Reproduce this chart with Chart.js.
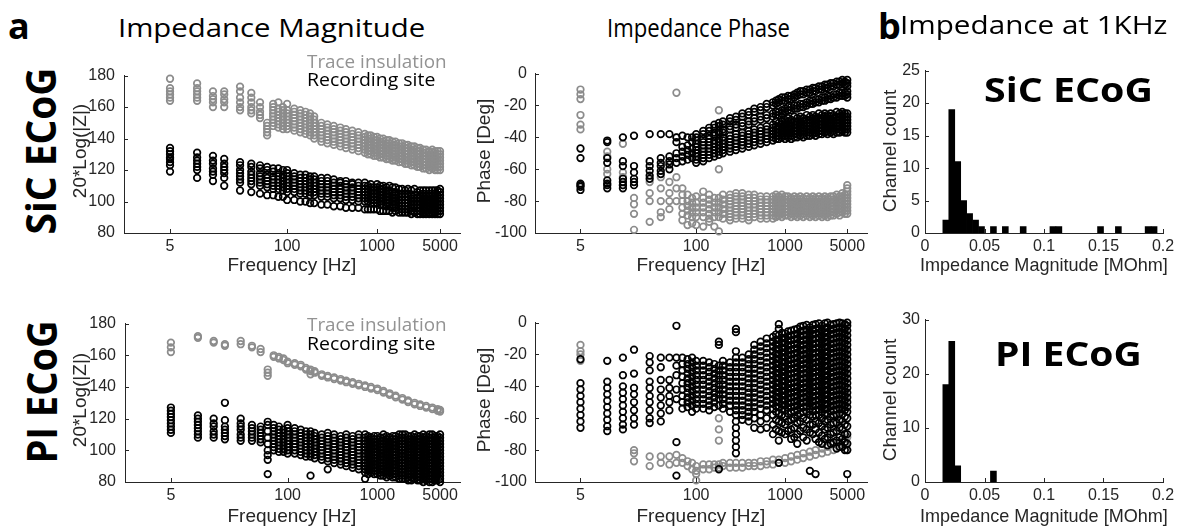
<!DOCTYPE html>
<html>
<head>
<meta charset="utf-8">
<title>Impedance</title>
<script src="https://cdn.jsdelivr.net/npm/chart.js@4.4.1/dist/chart.umd.min.js"></script>
<style>
  html, body { margin: 0; padding: 0; background: #fff; }
  body { position: relative; width: 1177px; height: 527px; overflow: hidden; }
  .panel { position: absolute; }
  .lbl { position: absolute; white-space: nowrap; line-height: 1; }
</style>
</head>
<body>
<script>
// frequency sweep shared by all four scatter panels (one column of values per frequency)
var FREQ = [5, 10, 15, 20, 30, 40, 50, 60, 70, 80, 90, 100, 120, 140, 160, 180, 200, 240, 280, 330,
  390, 450, 530, 620, 730, 850, 1000, 1170, 1370, 1600, 1900, 2200, 2600, 3000, 3500, 4100, 4700, 5000];
// extra points of the sweep in the crowded high-frequency end
var FREQ_HI = [790, 920, 1080, 1270, 1480, 1750, 2050, 2400, 2800, 3250, 3800, 4400];

var FREQ_TICKS = [5, 100, 1000, 5000];
var MAG_TICKS = [80, 100, 120, 140, 160, 180];
var PHASE_TICKS = [-100, -80, -60, -40, -20, 0];
var SIC_COUNT_TICKS = [0, 5, 10, 15, 20, 25];
var PI_COUNT_TICKS = [0, 10, 20, 30];
var MOHM_TICKS = [0, 0.05, 0.1, 0.15, 0.2];

// SiC ECoG, 20*log|Z|
var SIC_MAG_TRACE = [
  [164, 166, 168, 170, 172, 178], [164, 166, 168, 170, 172, 175], [160, 163, 165, 167, 170],
  [160, 163, 165, 168, 170], [158, 160, 163, 166, 170, 173], [156, 158, 160, 163, 166, 169],
  [153, 155, 157, 160, 163], [142, 144, 146, 148, 150],
  [148, 150, 152, 154, 156, 158, 160, 162], [147, 149, 151, 153, 155, 157, 159, 163],
  [146, 148, 150, 152, 154, 156, 158, 160], [146, 148, 150, 152, 154, 156, 158, 162],
  [145, 147, 149, 151, 153, 155, 157, 159], [144, 146, 148, 150, 152, 154, 156, 158],
  [143, 145, 147, 149, 151, 153, 155, 157], [142, 144, 146, 148, 150, 152, 154, 156],
  [140, 142, 144, 146, 148, 150, 152, 154], [138, 140, 142, 144, 146, 148, 150],
  [137, 139, 141, 143, 145, 147, 149], [136, 138, 140, 142, 144, 146, 148],
  [135, 137, 139, 141, 143, 145, 147], [134, 136, 138, 140, 142, 144, 146],
  [133, 135, 137, 139, 141, 143, 145], [132, 134, 136, 138, 140, 142, 144],
  [131, 133, 135, 137, 139, 141, 143], [130, 132, 134, 136, 138, 140, 142],
  [129, 131, 133, 135, 137, 139, 141], [128, 130, 132, 134, 136, 138, 140],
  [127, 129, 131, 133, 135, 137, 139], [126, 128, 130, 132, 134, 136, 138],
  [125, 127, 129, 131, 133, 135, 137], [124, 126, 128, 130, 132, 134, 136],
  [123, 125, 127, 129, 131, 133, 135], [122, 124, 126, 128, 130, 132, 134],
  [121, 123, 125, 127, 129, 131, 133], [121, 123, 125, 127, 129, 131, 133],
  [120, 122, 124, 126, 128, 130, 132], [120, 122, 124, 126, 128, 130, 132]
];
var SIC_MAG_TRACE_HI = [
  [130, 132, 134, 136, 138, 140, 142], [129, 131, 133, 135, 137, 139, 141], [128, 130, 132, 134, 136, 138, 140],
  [127, 129, 131, 133, 135, 137, 139], [126, 128, 130, 132, 134, 136, 138], [125, 127, 129, 131, 133, 135, 137],
  [124, 126, 128, 130, 132, 134, 136], [123, 125, 127, 129, 131, 133, 135], [122, 124, 126, 128, 130, 132, 134],
  [121, 123, 125, 127, 129, 131, 133], [120, 122, 124, 126, 128, 130, 132], [120, 122, 124, 126, 128, 130, 132]
];
var SIC_MAG_SITE = [
  [119, 123, 125, 127, 128, 130, 132, 134], [115, 120, 122, 124, 126, 128, 131],
  [113, 117, 119, 121, 124, 126, 129], [110, 115, 118, 120, 122, 124, 127],
  [107, 112, 114, 116, 118, 120, 123, 125], [106, 111, 113, 115, 117, 119, 122, 124],
  [105, 110, 112, 114, 116, 118, 121, 123], [104, 109, 111, 113, 115, 117, 120, 122],
  [104, 108, 110, 112, 114, 116, 119, 121], [103, 108, 110, 112, 114, 116, 118, 121],
  [103, 107, 109, 111, 113, 115, 117, 120], [101, 106, 108, 110, 112, 114, 116, 118, 120],
  [101, 106, 108, 110, 112, 114, 116, 118], [100, 105, 107, 109, 111, 113, 115, 117],
  [100, 105, 107, 109, 111, 113, 115, 117], [99, 104, 106, 108, 110, 112, 114, 116],
  [99, 104, 106, 108, 110, 112, 114, 116], [98, 103, 105, 107, 109, 111, 113, 115],
  [98, 103, 105, 107, 109, 111, 113, 115], [97, 102, 104, 106, 108, 110, 112, 114],
  [97, 102, 104, 106, 108, 110, 112, 113], [96, 101, 103, 105, 107, 109, 111, 113],
  [96, 101, 103, 105, 107, 109, 111, 112], [96, 100, 102, 104, 106, 108, 110, 112],
  [95, 100, 102, 104, 106, 108, 110, 112], [95, 99, 101, 103, 105, 107, 109, 111],
  [95, 99, 101, 103, 105, 107, 109, 111], [94, 98, 100, 102, 104, 106, 108, 110],
  [94, 97, 99, 101, 103, 105, 107, 110], [94, 96, 98, 100, 102, 104, 106, 109],
  [93, 95, 97, 99, 101, 103, 105, 108], [93, 95, 97, 99, 101, 103, 105, 108],
  [93, 94, 96, 98, 100, 102, 104, 108], [92, 94, 96, 98, 100, 102, 104, 107],
  [92, 94, 96, 98, 100, 102, 104, 107], [92, 94, 96, 98, 100, 102, 104, 107],
  [92, 94, 96, 98, 100, 102, 104, 107], [92, 94, 96, 98, 100, 102, 104, 106, 108]
];
var SIC_MAG_SITE_HI = [
  [95, 100, 102, 104, 106, 108, 110], [95, 99, 101, 103, 105, 107, 109], [94, 98, 100, 102, 104, 106, 108, 110],
  [94, 97, 99, 101, 103, 105, 107, 109], [93, 96, 98, 100, 102, 104, 106, 109], [93, 95, 97, 99, 101, 103, 105, 108],
  [93, 95, 97, 99, 101, 103, 105, 107], [92, 94, 96, 98, 100, 102, 104, 107], [92, 94, 96, 98, 100, 102, 104, 106],
  [92, 93, 95, 97, 99, 101, 103, 105, 107], [92, 93, 95, 97, 99, 101, 103, 105, 107],
  [92, 93, 95, 97, 99, 101, 103, 105, 107]
];

// SiC ECoG, phase in degrees
var SIC_PH_TRACE = [
  [-10, -13, -16, -26, -32, -35], [-49, -52, -60, -63], [-44, -62, -65, -70], [-78, -82, -88, -98],
  [-68, -75, -80, -93], [-65, -72, -80, -87, -90], [-68, -75, -80, -85], [-12, -40, -65, -72, -80],
  [-72, -76, -80, -84, -88, -92], [-76, -80, -83, -86, -89, -95], [-78, -81, -84, -87, -90, -94],
  [-77, -81, -84, -87, -90, -95], [-74, -78, -81, -84, -87, -90, -96], [-76, -79, -82, -85, -88, -91, -93],
  [-78, -81, -84, -87, -90, -96], [-23, -60, -78, -81, -84, -87, -90, -99], [-76, -79, -82, -85, -88, -91],
  [-76, -78, -80, -82, -84, -86, -88, -90, -92], [-75, -77, -79, -81, -83, -85, -87, -89, -91],
  [-75, -77, -79, -81, -83, -85, -87, -89, -91], [-76, -78, -80, -82, -84, -86, -88, -90, -92],
  [-76, -78, -80, -82, -84, -86, -88, -90], [-77, -79, -81, -83, -85, -87, -89, -91],
  [-77, -79, -81, -83, -85, -87, -89, -91], [-77, -79, -81, -83, -85, -87, -89, -91],
  [-77, -79, -81, -83, -85, -87, -89], [-77, -79, -81, -83, -85, -87, -89],
  [-78, -80, -82, -84, -86, -88, -90], [-78, -80, -82, -84, -86, -88, -90],
  [-78, -80, -82, -84, -86, -88, -90], [-78, -80, -82, -84, -86, -88, -90],
  [-78, -80, -82, -84, -86, -88, -90], [-78, -80, -82, -84, -86, -88, -90],
  [-78, -80, -82, -84, -86, -88, -90], [-77, -79, -81, -83, -85, -87, -89],
  [-77, -79, -81, -83, -85, -87, -89], [-76, -78, -80, -82, -84, -86, -88],
  [-70, -72, -74, -76, -78, -80, -82, -84, -86, -88]
];
var SIC_PH_TRACE_HI = [
  [-76, -78, -80, -82, -84, -86, -88, -90], [-76, -78, -80, -82, -84, -86, -88, -90],
  [-77, -79, -81, -83, -85, -87, -89], [-77, -79, -81, -83, -85, -87, -89], [-77, -79, -81, -83, -85, -87, -89],
  [-77, -79, -81, -83, -85, -87, -89], [-77, -79, -81, -83, -85, -87, -89], [-77, -79, -81, -83, -85, -87, -89],
  [-77, -79, -81, -83, -85, -87, -89], [-77, -79, -81, -83, -85, -87, -89], [-76, -78, -80, -82, -84, -86, -88],
  [-75, -77, -79, -81, -83, -85, -87]
];
var SIC_PH_SITE = [
  [-47, -53, -69, -70, -71, -73], [-42, -43, -53, -56, -67, -69, -70, -72], [-40, -55, -58, -66, -68, -70, -72],
  [-39, -58, -62, -66, -68, -70], [-38, -55, -58, -61, -64, -66], [-38, -53, -56, -58, -61, -63],
  [-38, -52, -55, -57, -60], [-40, -43, -50, -53, -56], [-39, -46, -49, -52, -55], [-40, -45, -48, -51, -54],
  [-40, -43, -47, -50, -53],
  [-38, -40, -42, -44, -46, -48, -50, -52, -54, -56], [-36, -38, -41, -43, -45, -47, -49, -51, -53, -55],
  [-34, -36, -39, -41, -43, -45, -47, -49, -51, -53], [-32, -34, -37, -39, -42, -44, -46, -48, -50, -52],
  [-31, -33, -36, -38, -41, -43, -45, -47, -49, -51], [-30, -32, -35, -37, -40, -42, -44, -46, -48, -50],
  [-28, -30, -33, -35, -39, -41, -43, -45, -47, -49], [-27, -29, -32, -34, -38, -40, -42, -44, -46, -48],
  [-25, -27, -31, -33, -37, -39, -41, -43, -45, -47], [-24, -26, -30, -32, -36, -38, -40, -42, -44, -46],
  [-22, -24, -28, -30, -35, -37, -39, -41, -43, -45], [-21, -23, -27, -29, -34, -36, -38, -40, -42, -44],
  [-19, -21, -26, -28, -33, -35, -37, -39, -41, -43], [-18, -20, -25, -27, -32, -34, -36, -38, -40, -42],
  [-16, -18, -24, -26, -31, -33, -35, -37, -39, -41], [-15, -17, -22, -24, -29, -31, -33, -35, -37, -39, -41],
  [-14, -16, -21, -23, -29, -31, -33, -35, -37, -39, -41], [-12, -14, -20, -22, -28, -30, -32, -34, -36, -38, -40],
  [-11, -13, -19, -21, -28, -30, -32, -34, -36, -38, -40], [-10, -12, -17, -19, -27, -29, -31, -33, -35, -37, -39],
  [-9, -11, -16, -18, -27, -29, -31, -33, -35, -37, -39], [-8, -10, -15, -17, -26, -28, -30, -32, -34, -36, -38],
  [-7, -9, -14, -16, -26, -28, -30, -32, -34, -36, -38], [-6, -8, -13, -15, -26, -28, -30, -32, -34, -36, -38],
  [-5, -7, -12, -14, -25, -27, -29, -31, -33, -35, -37], [-5, -7, -12, -14, -25, -27, -29, -31, -33, -35, -37],
  [-4, -6, -8, -11, -13, -15, -25, -27, -29, -31, -33, -35, -37]
];
var SIC_PH_SITE_HI = [
  [-17, -19, -24, -26, -30, -33, -35, -37, -39, -41], [-15, -17, -23, -25, -30, -32, -34, -36, -38, -40],
  [-14, -16, -21, -23, -28, -30, -32, -34, -36, -38, -40], [-13, -15, -20, -22, -27, -30, -32, -34, -36, -38, -40],
  [-11, -13, -19, -21, -27, -29, -31, -33, -35, -37, -39], [-10, -12, -18, -20, -26, -29, -31, -33, -35, -37, -39],
  [-9, -11, -17, -19, -26, -28, -30, -32, -34, -36, -38], [-8, -10, -16, -18, -25, -28, -30, -32, -34, -36, -38],
  [-7, -9, -15, -17, -25, -27, -29, -31, -33, -35, -37], [-6, -8, -14, -16, -25, -27, -29, -31, -33, -35, -37],
  [-5, -7, -13, -15, -24, -27, -29, -31, -33, -35, -37], [-4, -6, -12, -14, -24, -26, -28, -30, -32, -34, -36]
];

// PI ECoG, 20*log|Z|
var PI_MAG_TRACE = [
  [162, 165, 168], [171, 172], [168, 169], [166, 167], [167, 169], [165, 166], [162, 164], [147, 149, 151],
  [159, 160], [158, 159], [157, 158], [155, 156], [154, 155], [153, 154], [151, 152], [148, 150, 151],
  [149, 150], [147, 148], [146, 147], [145, 146], [144, 145], [143, 144], [142, 143], [141, 142],
  [140, 141], [139, 140], [138, 139], [136.5, 137.5], [135, 136], [133.5, 134.5], [132, 133],
  [130.5, 131.5], [129, 130], [128, 129], [127, 128], [126, 127], [125, 126], [124.5, 125.5]
];
var PI_MAG_SITE = [
  [111, 113, 115, 117, 119, 121, 123, 125, 127], [108, 110, 112, 114, 116, 118, 120, 122],
  [108, 110, 112, 115, 117, 120], [107, 109, 111, 113, 115, 119, 130], [106, 108, 110, 113, 115, 117, 120],
  [106, 108, 110, 112, 114, 116], [105, 107, 109, 111, 113, 115], [85, 94, 97, 100, 104, 108, 112, 116, 118],
  [100, 102, 104, 106, 108, 110, 112, 114, 116], [99, 101, 103, 105, 107, 109, 111, 113, 115],
  [99, 101, 103, 105, 107, 109, 111, 113], [98, 100, 102, 104, 106, 108, 110, 112, 114, 116],
  [98, 100, 102, 104, 106, 108, 110, 112, 114], [97, 99, 101, 103, 105, 107, 109, 111, 113],
  [96, 98, 100, 102, 104, 106, 108, 110, 112], [84, 96, 98, 100, 102, 104, 106, 108, 110, 112],
  [95, 97, 99, 101, 103, 105, 107, 109, 111], [94, 96, 98, 100, 102, 104, 106, 108, 110],
  [88, 93, 95, 97, 99, 101, 103, 105, 107, 109, 111], [92, 94, 96, 98, 100, 102, 104, 106, 108, 110],
  [91, 93, 95, 97, 99, 101, 103, 105, 107, 109], [90, 92, 94, 96, 98, 100, 102, 104, 106, 108, 110],
  [89, 91, 93, 95, 97, 99, 101, 103, 105, 107, 109], [88, 90, 92, 94, 96, 98, 100, 102, 104, 106, 108, 110],
  [82, 86, 88, 90, 92, 94, 96, 98, 100, 102, 104, 106, 108, 110],
  [86, 88, 90, 92, 94, 96, 98, 100, 102, 104, 106, 108],
  [85, 87, 89, 91, 93, 95, 97, 99, 101, 103, 105, 107, 109],
  [84, 86, 88, 90, 92, 94, 96, 98, 100, 102, 104, 106, 108, 110],
  [84, 86, 88, 90, 92, 94, 96, 98, 100, 102, 104, 106, 108],
  [83, 85, 87, 89, 91, 93, 95, 97, 99, 101, 103, 105, 107, 109],
  [82, 84, 86, 88, 90, 92, 94, 96, 98, 100, 102, 104, 106, 108, 110],
  [81, 83, 85, 87, 89, 91, 93, 95, 97, 99, 101, 103, 105, 107, 109],
  [82, 84, 86, 88, 90, 92, 94, 96, 98, 100, 102, 104, 106, 108, 110],
  [81, 83, 85, 87, 89, 91, 93, 95, 97, 99, 101, 103, 105, 107, 109],
  [81, 83, 85, 87, 89, 91, 93, 95, 97, 99, 101, 103, 105, 107, 109],
  [80, 82, 84, 86, 88, 90, 92, 94, 96, 98, 100, 102, 104, 106, 108, 110],
  [81, 83, 85, 87, 89, 91, 93, 95, 97, 99, 101, 103, 105, 107, 109],
  [80, 82, 84, 86, 88, 90, 92, 94, 96, 98, 100, 102, 104, 106, 108, 110]
];
var PI_MAG_SITE_HI = [
  [85, 87, 89, 91, 93, 95, 97, 99, 101, 103, 105, 107, 109],
  [85, 87, 89, 91, 93, 95, 97, 99, 101, 103, 105, 107, 109],
  [84, 86, 88, 90, 92, 94, 96, 98, 100, 102, 104, 106, 108],
  [83, 85, 87, 89, 91, 93, 95, 97, 99, 101, 103, 105, 107, 109],
  [83, 85, 87, 89, 91, 93, 95, 97, 99, 101, 103, 105, 107, 109],
  [82, 84, 86, 88, 90, 92, 94, 96, 98, 100, 102, 104, 106, 108, 110],
  [82, 84, 86, 88, 90, 92, 94, 96, 98, 100, 102, 104, 106, 108, 110],
  [81, 83, 85, 87, 89, 91, 93, 95, 97, 99, 101, 103, 105, 107, 109],
  [81, 83, 85, 87, 89, 91, 93, 95, 97, 99, 101, 103, 105, 107, 109],
  [80, 82, 84, 86, 88, 90, 92, 94, 96, 98, 100, 102, 104, 106, 108, 110],
  [80, 82, 84, 86, 88, 90, 92, 94, 96, 98, 100, 102, 104, 106, 108, 110],
  [81, 83, 85, 87, 89, 91, 93, 95, 97, 99, 101, 103, 105, 107, 109]
];

// PI ECoG, phase in degrees
var PI_PH_TRACE = [
  [-14, -18, -20, -24], [], [], [-80, -82, -87], [-84, -90], [-84, -88], [-84, -89], [-83, -88],
  [-85, -88], [-87, -90], [-88, -92], [-90, -93, -95, -99], [-89, -92], [-89, -92], [-89, -91],
  [-60, -67, -74, -89, -91], [-88, -90], [-88, -91], [-88, -91], [-88, -91], [-88, -90], [-88, -90],
  [-87, -90], [-87, -89], [-86, -89], [-86, -88], [-85, -88], [-84, -87], [-83, -86], [-82, -85],
  [-81, -84], [-80, -83], [-79, -82], [-78, -81], [-76, -80], [-75, -78], [-73, -77], [-72, -76, -80]
];
var PI_PH_SITE = [
  [-23, -38, -42, -46, -50, -54, -58, -62, -66], [-24, -37, -41, -45, -49, -53, -57, -61, -65, -68],
  [-22, -33, -40, -44, -48, -52, -56, -60, -64, -67], [-17, -32, -41, -45, -50, -55, -60, -64],
  [-21, -25, -30, -37, -41, -46, -50, -55, -60, -63], [-22, -28, -36, -42, -47, -52, -57, -62],
  [-22, -36, -41, -46, -50, -55], [-2, -22, -27, -33, -42, -48, -75, -96],
  [-22, -26, -30, -34, -38, -42, -46, -50, -54], [-23, -26, -29, -32, -35, -38, -41, -44, -47, -50, -53],
  [-22, -25, -28, -31, -34, -37, -40, -43, -46, -49, -52, -56], [-24, -27, -30, -33, -36, -39, -42, -45, -48, -51, -54],
  [-24, -27, -30, -33, -36, -39, -42, -45, -48, -51, -54], [-25, -28, -31, -34, -37, -40, -43, -46, -49, -52, -55],
  [-26, -29, -32, -35, -38, -41, -44, -47, -50, -53], [-12, -14, -27, -30, -33, -36, -39, -42, -45, -48, -52, -92],
  [-24, -27, -30, -33, -36, -39, -42, -45, -48, -51, -54], [-25, -28, -31, -34, -37, -40, -43, -46, -49, -52, -56],
  [-4, -6, -18, -22, -25, -28, -31, -34, -37, -40, -43, -46, -49, -52, -55, -58, -62, -66, -70, -74, -78, -82],
  [-22, -25, -28, -31, -34, -37, -40, -43, -46, -49, -52, -55, -58, -61],
  [-20, -23, -26, -29, -32, -35, -38, -41, -44, -47, -50, -53, -56, -59, -62],
  [-14, -17, -20, -23, -26, -29, -32, -35, -38, -41, -44, -47, -50, -53, -56, -60, -66],
  [-12, -15, -18, -21, -24, -27, -30, -33, -36, -39, -42, -45, -48, -51, -54, -58, -62, -67],
  [-10, -13, -16, -19, -22, -25, -28, -31, -34, -37, -40, -43, -46, -49, -52, -55, -60, -66],
  [-9, -12, -15, -18, -21, -24, -27, -30, -33, -36, -39, -42, -45, -48, -51, -54, -58, -64, -70],
  [-1, -4, -8, -11, -14, -17, -20, -23, -26, -29, -32, -35, -38, -41, -44, -47, -50, -53, -57, -62, -68, -74, -88],
  [-7, -10, -13, -16, -19, -22, -25, -28, -31, -34, -37, -40, -43, -46, -49, -52, -55, -59, -64, -70],
  [-5, -8, -11, -14, -17, -20, -23, -26, -29, -32, -35, -38, -41, -44, -47, -50, -53, -56, -61, -67, -73],
  [-4, -7, -10, -13, -16, -19, -22, -25, -28, -31, -34, -37, -40, -43, -46, -49, -52, -55, -58, -63, -70, -76],
  [-2, -5, -8, -11, -14, -17, -20, -23, -26, -29, -32, -35, -38, -41, -44, -47, -50, -53, -56, -60, -66, -72],
  [-3, -6, -9, -12, -15, -18, -21, -24, -27, -30, -33, -36, -39, -42, -45, -48, -51, -54, -58, -64, -69, -93],
  [-1, -4, -7, -10, -13, -16, -19, -22, -25, -28, -31, -34, -37, -40, -43, -46, -49, -52, -55, -58, -62, -67, -73, -95],
  [-2, -5, -8, -11, -14, -17, -20, -23, -26, -29, -32, -35, -38, -41, -44, -47, -50, -53, -56, -60, -65, -71, -76],
  [0, -3, -6, -9, -12, -15, -18, -21, -24, -27, -30, -33, -36, -39, -42, -45, -48, -51, -54, -57, -61, -66, -72, -77],
  [-1, -4, -7, -10, -13, -16, -19, -22, -25, -28, -31, -34, -37, -40, -43, -46, -49, -52, -55, -58, -63, -69, -75],
  [0, -3, -6, -9, -12, -15, -18, -21, -24, -27, -30, -33, -36, -39, -42, -45, -48, -51, -54, -57, -61, -66, -72, -78],
  [-1, -4, -7, -10, -13, -16, -19, -22, -25, -28, -31, -34, -37, -40, -43, -46, -49, -52, -55, -59, -64, -70, -75, -80],
  [0, -2, -5, -8, -11, -14, -17, -20, -23, -26, -29, -32, -35, -38, -41, -44, -47, -50, -53, -56, -60, -65, -70, -76, -80, -95]
];
var PI_PH_SITE_HI = [
  [-7.5, -10.5, -13.5, -16.5, -19.5, -22.5, -25.5, -28.5, -31.5, -34.5, -37.5, -40.5, -43.5, -46.5, -49.5, -52.5, -56, -61, -67],
  [-6.5, -9.5, -12.5, -15.5, -18.5, -21.5, -24.5, -27.5, -30.5, -33.5, -36.5, -39.5, -42.5, -45.5, -48.5, -51.5, -54.5, -58, -63, -69],
  [-5.5, -8.5, -11.5, -14.5, -17.5, -20.5, -23.5, -26.5, -29.5, -32.5, -35.5, -38.5, -41.5, -44.5, -47.5, -50.5, -53.5, -57, -62, -68],
  [-4.5, -7.5, -10.5, -13.5, -16.5, -19.5, -22.5, -25.5, -28.5, -31.5, -34.5, -37.5, -40.5, -43.5, -46.5, -49.5, -52.5, -55.5, -60, -66, -72],
  [-2.5, -5.5, -8.5, -11.5, -14.5, -17.5, -20.5, -23.5, -26.5, -29.5, -32.5, -35.5, -38.5, -41.5, -44.5, -47.5, -50.5, -53.5, -57, -62, -68],
  [-1.5, -4.5, -7.5, -10.5, -13.5, -16.5, -19.5, -22.5, -25.5, -28.5, -31.5, -34.5, -37.5, -40.5, -43.5, -46.5, -49.5, -52.5, -56, -61, -67, -74],
  [-1.5, -4.5, -7.5, -10.5, -13.5, -16.5, -19.5, -22.5, -25.5, -28.5, -31.5, -34.5, -37.5, -40.5, -43.5, -46.5, -49.5, -52.5, -55.5, -59, -64, -70],
  [-0.5, -3.5, -6.5, -9.5, -12.5, -15.5, -18.5, -21.5, -24.5, -27.5, -30.5, -33.5, -36.5, -39.5, -42.5, -45.5, -48.5, -51.5, -54.5, -58, -63, -69, -75],
  [-0.5, -3.5, -6.5, -9.5, -12.5, -15.5, -18.5, -21.5, -24.5, -27.5, -30.5, -33.5, -36.5, -39.5, -42.5, -45.5, -48.5, -51.5, -54.5, -57.5, -62, -67, -73],
  [-1.5, -4.5, -7.5, -10.5, -13.5, -16.5, -19.5, -22.5, -25.5, -28.5, -31.5, -34.5, -37.5, -40.5, -43.5, -46.5, -49.5, -52.5, -55.5, -59, -64, -70, -76],
  [-0.5, -3.5, -6.5, -9.5, -12.5, -15.5, -18.5, -21.5, -24.5, -27.5, -30.5, -33.5, -36.5, -39.5, -42.5, -45.5, -48.5, -51.5, -54.5, -58, -63, -68, -74, -79],
  [-0.5, -3.5, -6.5, -9.5, -12.5, -15.5, -18.5, -21.5, -24.5, -27.5, -30.5, -33.5, -36.5, -39.5, -42.5, -45.5, -48.5, -51.5, -54.5, -57.5, -62, -67, -73, -78]
];

// impedance at 1 kHz, histogram bin centres (MOhm) and channel counts
var SIC_BINS = [0.0175, 0.0225, 0.0275, 0.0325, 0.0375, 0.0425, 0.0475, 0.0575, 0.0675, 0.0825,
  0.1075, 0.1125, 0.1475, 0.1625, 0.1875, 0.1925];
var SIC_COUNTS = [2, 19, 11, 5, 3, 2, 1, 1, 1, 1, 1, 1, 1, 1, 1, 1];
var PI_BINS = [0.0175, 0.0225, 0.0275, 0.0575];
var PI_COUNTS = [18, 26, 3, 2];

(function() {
  'use strict';

  var AXIS = '#262626';
  var GRAY = '#8c8c8c';
  var HELV = '"Liberation Sans", Arial, sans-serif';
  var OPEN = '"Open Sans", "Noto Sans", sans-serif';
  var Y_W = 50, PAD_T = 12, PAD_R = 20, X_H = 30;

  Chart.defaults.font.family = HELV;
  Chart.defaults.font.size = 16;
  Chart.defaults.color = AXIS;

  function points(freqs, cols) {
    var out = [];
    freqs.forEach(function(f, i) {
      (cols[i] || []).forEach(function(v) { out.push({ x: f, y: v }); });
    });
    return out;
  }

  function rings(cols, hiCols, color) {
    return {
      data: points(FREQ, cols).concat(hiCols ? points(FREQ_HI, hiCols) : []),
      borderColor: color,
      pointBorderColor: color,
      backgroundColor: 'rgba(0,0,0,0)',
      pointBackgroundColor: 'rgba(0,0,0,0)',
      pointRadius: 3.3,
      pointHoverRadius: 3.3,
      pointBorderWidth: 1.7,
      showLine: false,
      clip: false
    };
  }

  function bars(bins, counts) {
    return {
      data: bins.map(function(b, i) { return { x: b, y: counts[i] }; }),
      backgroundColor: '#000',
      borderWidth: 0,
      barPercentage: 1,
      categoryPercentage: 1
    };
  }

  function axis(type, min, max, ticks, pad) {
    return {
      type: type, min: min, max: max, offset: false,
      grid: { display: false, drawTicks: false },
      border: { display: true, color: AXIS, width: 1 },
      afterBuildTicks: function(s) {
        s.ticks = ticks.map(function(v) { return { value: v }; });
      },
      ticks: {
        autoSkip: false, maxRotation: 0, minRotation: 0, padding: pad,
        color: AXIS, font: { family: HELV, size: 16 },
        callback: function(v) { return String(v); }
      }
    };
  }

  // MATLAB-style tick marks pointing into the plot
  var inwardTicks = {
    id: 'inwardTicks',
    afterDatasetsDraw: function(chart) {
      var ctx = chart.ctx, a = chart.chartArea, sx = chart.scales.x, sy = chart.scales.y;
      ctx.save();
      ctx.strokeStyle = AXIS;
      ctx.lineWidth = 1;
      ctx.beginPath();
      sx.ticks.forEach(function(t) {
        var p = Math.round(sx.getPixelForValue(t.value)) + 0.5;
        ctx.moveTo(p, a.bottom); ctx.lineTo(p, a.bottom - 4);
      });
      sy.ticks.forEach(function(t) {
        var p = Math.round(sy.getPixelForValue(t.value)) + 0.5;
        ctx.moveTo(a.left, p); ctx.lineTo(a.left + 4, p);
      });
      ctx.stroke();
      ctx.restore();
    }
  };

  function makeChart(box, type, datasets, xs, ys) {
    var w = box.r - box.l + Y_W + PAD_R;
    var h = box.b - box.t + PAD_T + X_H;
    var wrap = document.createElement('div');
    wrap.className = 'panel';
    wrap.style.left = (box.l - Y_W) + 'px';
    wrap.style.top = (box.t - PAD_T) + 'px';
    var cv = document.createElement('canvas');
    cv.width = w; cv.height = h;
    cv.style.width = w + 'px'; cv.style.height = h + 'px';
    wrap.appendChild(cv);
    document.body.appendChild(wrap);
    xs.position = 'bottom';
    ys.position = 'left';
    xs.afterFit = function(s) { s.height = X_H; };
    ys.afterFit = function(s) { s.width = Y_W; };
    return new Chart(cv, {
      type: type,
      data: { datasets: datasets },
      options: {
        responsive: false,
        animation: false,
        devicePixelRatio: 1,
        events: [],
        layout: { autoPadding: false, padding: { top: PAD_T, right: PAD_R, left: 0, bottom: 0 } },
        plugins: { legend: { display: false }, tooltip: { enabled: false } },
        scales: { x: xs, y: ys }
      },
      plugins: [inwardTicks]
    });
  }

  function freqAxis() { return axis('logarithmic', 1.54, 8340, FREQ_TICKS, 4); }

  // top row: SiC ECoG
  makeChart({ l: 124, r: 460, t: 69, b: 233 }, 'scatter',
    [rings(SIC_MAG_SITE, SIC_MAG_SITE_HI, '#000'), rings(SIC_MAG_TRACE, SIC_MAG_TRACE_HI, GRAY)],
    freqAxis(), axis('linear', 80, 180, MAG_TICKS, 9));
  makeChart({ l: 535, r: 867, t: 68, b: 233 }, 'scatter',
    [rings(SIC_PH_SITE, SIC_PH_SITE_HI, '#000'), rings(SIC_PH_TRACE, SIC_PH_TRACE_HI, GRAY)],
    freqAxis(), axis('linear', -100, 0, PHASE_TICKS, 8));
  makeChart({ l: 925, r: 1163, t: 68, b: 233 }, 'bar',
    [bars(SIC_BINS, SIC_COUNTS)],
    axis('linear', 0, 0.2, MOHM_TICKS, 4), axis('linear', 0, 25, SIC_COUNT_TICKS, 5));

  // bottom row: PI ECoG
  makeChart({ l: 125, r: 460, t: 317, b: 482 }, 'scatter',
    [rings(PI_MAG_SITE, PI_MAG_SITE_HI, '#000'), rings(PI_MAG_TRACE, null, GRAY)],
    freqAxis(), axis('linear', 80, 180, MAG_TICKS, 9));
  makeChart({ l: 535, r: 867, t: 317, b: 482 }, 'scatter',
    [rings(PI_PH_SITE, PI_PH_SITE_HI, '#000'), rings(PI_PH_TRACE, null, GRAY)],
    freqAxis(), axis('linear', -100, 0, PHASE_TICKS, 8));
  makeChart({ l: 925, r: 1163, t: 317, b: 482 }, 'bar',
    [bars(PI_BINS, PI_COUNTS)],
    axis('linear', 0, 0.2, MOHM_TICKS, 4), axis('linear', 0, 30, PI_COUNT_TICKS, 5));

  // text: fitted to the widths measured on the figure
  var BASE_K = {};
  BASE_K[OPEN] = 0.888;
  BASE_K[HELV] = 0.847;

  function text(str, o) {
    var el = document.createElement('div');
    el.className = 'lbl';
    el.textContent = str;
    el.style.font = (o.weight || 400) + ' ' + o.size + 'px ' + o.family;
    el.style.color = o.color || '#000';
    document.body.appendChild(el);
    var w = el.offsetWidth, h = el.offsetHeight;
    var sx = o.w ? o.w / w : 1;
    if (o.rot) {
      el.style.left = (o.cx - w / 2) + 'px';
      el.style.top = (o.cy - h / 2) + 'px';
      el.style.transform = 'rotate(-90deg) scaleX(' + sx + ')';
    } else {
      var left = o.x != null ? o.x : o.cx - w * sx / 2;
      el.style.left = left + 'px';
      el.style.top = (o.base - o.size * BASE_K[o.family]) + 'px';
      el.style.transformOrigin = '0 0';
      el.style.transform = 'scaleX(' + sx + ')';
    }
  }

  text('a', { family: OPEN, weight: 700, size: 36, x: 8, base: 33 });
  text('Impedance Magnitude', { family: OPEN, size: 26, x: 118, base: 32, w: 307 });
  text('Impedance Phase', { family: OPEN, size: 26, x: 607, base: 32, w: 183 });
  text('b', { family: OPEN, weight: 700, size: 36, x: 878, base: 33 });
  text('Impedance at 1KHz', { family: OPEN, size: 26, x: 900, base: 29, w: 268 });

  text('SiC ECoG', { family: OPEN, weight: 700, size: 41, rot: true, cx: 40, cy: 151, w: 167 });
  text('PI ECoG', { family: OPEN, weight: 700, size: 41, rot: true, cx: 41, cy: 392, w: 143 });

  text('Trace insulation', { family: OPEN, size: 19, x: 307, base: 65, w: 140, color: '#939393' });
  text('Recording site', { family: OPEN, size: 19, x: 307, base: 83, w: 128 });
  text('Trace insulation', { family: OPEN, size: 19, x: 307, base: 328, w: 140, color: '#939393' });
  text('Recording site', { family: OPEN, size: 19, x: 307, base: 347, w: 128 });

  text('SiC ECoG', { family: OPEN, weight: 700, size: 34, x: 984, base: 96, w: 169 });
  text('PI ECoG', { family: OPEN, weight: 700, size: 34, x: 995, base: 360, w: 147 });

  [151, 399.5].forEach(function(cy, row) {
    var base = row === 0 ? 270 : 521;
    text('20*Log(|Z|)', { family: HELV, size: 19, rot: true, cx: 80, cy: cy, color: AXIS });
    text('Phase [Deg]', { family: HELV, size: 19, rot: true, cx: 484, cy: cy, color: AXIS });
    text('Channel count', { family: HELV, size: 19, rot: true, cx: 890, cy: cy, color: AXIS });
    text('Frequency [Hz]', { family: HELV, size: 19, cx: 292, base: base, color: AXIS });
    text('Frequency [Hz]', { family: HELV, size: 19, cx: 701, base: base, color: AXIS });
    text('Impedance Magnitude [MOhm]', { family: HELV, size: 19, cx: 1044, base: base, w: 248, color: AXIS });
  });
})();
</script>
</body>
</html>
